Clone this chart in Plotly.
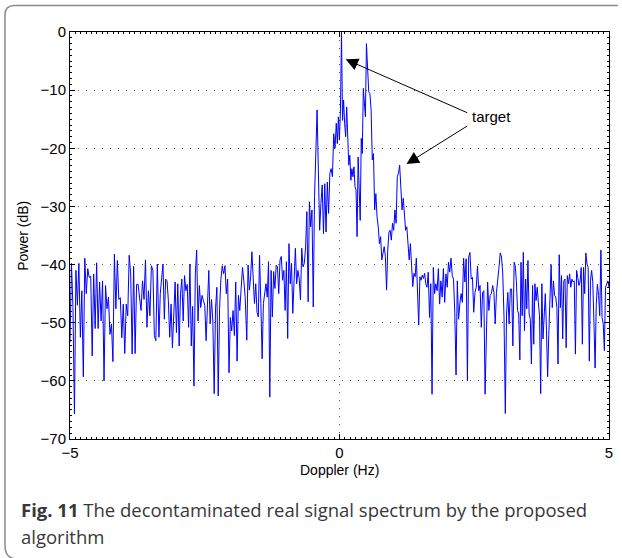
import numpy as np
import plotly.graph_objects as go

# Power spectrum (dB) of the decontaminated signal, listed in consecutive
# frequency stretches; each stretch is spread evenly over its own span.
power_a = [-53.4, -39.8, -47.4, -65.7, -41, -47, -39.8, -52.5, -44.5, -59.3,
           -38.9, -45, -40.7, -42.2, -42, -55.7, -41.6, -51, -39.7, -51,
           -43, -49.7, -42.8, -60, -43.6, -47.6, -45.6, -52, -50.2, -56.7,
           -38.2, -47.6, -39.3, -46, -45.7, -52.6, -46.8, -55.3, -46.8, -48.8,
           -38.4, -41.6, -55.4, -40.3, -55.3, -43.4, -43.4, -46.2, -47.9, -42.8,
           -46, -39.2, -50.8, -44.5, -48.8, -40.2, -41, -52.2, -53.1, -39.9]
power_b = [-52.5, -45, -43, -39.9, -49.4, -42.5, -42.8, -46.2, -52.5, -46.8,
           -54.3, -46.8, -43, -51.7, -43.3, -54, -45, -42.5, -49.7, -41.9,
           -44.5, -43.4, -50.8, -39.9, -54, -47.2, -60.9, -41.6, -37.5, -49.7,
           -43.6, -47.4, -45.3, -46.2, -47, -53.1, -44.7, -41, -50.2, -46,
           -49.7, -62.2, -47.6, -43.9, -62.6, -47.6, -42.5, -40.2, -41.6, -40.2,
           -45, -42.5, -58.6, -49.1, -51.4, -47.9, -52.2, -43, -56.6, -45.3,
           -47.9, -43, -40.5, -42.8, -45.6]
power_c = [-53, -40.1, -44.4, -42.1, -37.8, -42.7, -46.7, -43.3, -48.2, -49,
           -38.4, -46.7, -56.2, -46.7, -45, -43.3, -45.6, -39.5, -62.8, -41,
           -49, -41.2, -44.1, -40.1, -40.4, -45, -39.2, -38.6, -42.7, -41,
           -47.9, -39.5, -52.7, -36.4, -43.3, -39.8, -48.4, -41.5, -37.2, -43.3,
           -41, -42.4, -46.1, -37.2, -40.4, -39.8, -37, -30.9, -46.4, -29.2,
           -33.5, -30.6, -47.3, -28.3, -20.9, -13.4, -23.8, -34.1, -29.5, -26.3,
           -34.7, -26.1, -34.4, -25.8, -31.2, -24.3, -23.5, -24.9, -17.5, -20,
           -15.7]
power_d1 = [-19.2, -14.6, -18.6, -13.4, 0, -15.2, -11.7, -15.7, -18, -12.9,
            -16.9, -22.9, -21.2, -25.5, -23.5, -24.9, -23.2, -26.6, -27.2, -35.2,
            -21.5, -26.6, -32.4, -18.3, -20.9, -9.7, -13.2, -14.6, -2]
power_d2 = [-6.6, -10.3, -10.6, -13.4, -22, -20.9, -30.6, -27.8, -31.8, -33.5,
            -36.4, -35.2, -39.2, -38, -36.9, -38.6, -44.4, -37.5, -34.4, -34.1,
            -35.8, -32.9, -34.1, -30.6, -32.9, -24.9, -24.3, -22.9, -26.1, -30.6,
            -28.6, -31.8, -34.1, -33.5, -37.5, -39.2, -36.4, -39.8, -43.8, -41.5,
            -42.1, -38.9, -44.4, -50.4, -42.1, -42.7, -41.8, -42.4, -41.5]
power_e = [-43.3, -43.9, -41.3, -49.1, -43.3, -62.3, -40.5, -45, -43.3, -44.5,
           -40.7, -46.8, -42.8, -45.6, -40.7, -46.5, -41.6, -43.9, -39.6, -41.3,
           -38.9, -41.9, -42.5, -48.2, -59, -42.8, -49.4, -46.8, -45, -46.5,
           -38.9, -43, -39, -60, -38.7, -37.9, -42.5, -42.2, -48.2, -44.8,
           -43.9, -40.3, -44.5, -43.6, -50.8, -44.8, -44.5, -62.3, -49.4, -43,
           -47.9, -45.3, -45, -43.6, -44.8, -50.2, -44.8, -43, -40.5, -38,
           -38.7, -41.6, -49.1, -65.6, -48.5, -44.8, -50.2, -44.2, -44.2, -54,
           -39.6]
power_f = [-40.2, -42.8, -47.9, -48.5, -56.4, -39.6, -48.8, -37.9, -51.4, -42.5,
           -47.6, -39.3, -48.5, -49.4, -57.1, -43.6, -53.7, -43.3, -46.2, -43.9,
           -46.5, -48.8, -62.2, -43.3, -52.8, -49.1, -45, -51.4, -59.3, -52,
           -43.6, -40, -47.4, -42.8, -45.3, -45.6, -47.4, -57.1, -38.3, -47.4,
           -41.9, -52.8, -42.8, -42.5, -54.3, -41.9, -43.3, -41.6, -43.9, -42.5,
           -43, -42.8, -55.4, -41, -42.2, -43.6, -43, -40.5, -53.7, -40.5,
           -45, -38, -39.9, -40.5, -56.6, -42.8, -41, -43, -49.9, -57.8,
           -46.8, -43.4, -45.3, -48.8, -37.5, -49.1, -50.2, -54.8, -43.9, -43.3,
           -42.8, -43.9]

# Doppler span (Hz) of each stretch
span_a = (-5.0, -3.38)
span_b = (-3.35, -1.75)
span_c = (-1.72, -0.06)
span_d1 = (-0.04, 0.50)
span_d2 = (0.52, 1.58)
span_e = (1.60, 3.24)
span_f = (3.26, 5.0)

x_ticks = [-5, 0, 5]
y_ticks = [0, -10, -20, -30, -40, -50, -60, -70]

stretches = [(span_a, power_a), (span_b, power_b), (span_c, power_c),
             (span_d1, power_d1), (span_d2, power_d2), (span_e, power_e),
             (span_f, power_f)]
doppler = np.concatenate([np.linspace(s[0], s[1], len(p)) for s, p in stretches])
power = np.concatenate([np.asarray(p, dtype=float) for _, p in stretches])

W, H = 622, 558
ML, MR, MT, MB = 70, 9, 32, 119


def px(x):
    return (x - ML) / (W - ML - MR)


def py(y):
    return (H - MB - y) / (H - MT - MB)


AXIS_FONT = dict(family="Liberation Sans, Arial, Helvetica, sans-serif", size=14, color="black")
TICK_FONT = dict(family="Liberation Sans, Arial, Helvetica, sans-serif", size=15, color="black")
CAPTION_FONT = dict(family="Open Sans, Noto Sans, sans-serif", size=18.5, color="#383838")

fig = go.Figure(go.Scatter(x=doppler, y=power, mode="lines",
                           line=dict(color="#0000ff", width=1), showlegend=False))

axis_common = dict(
    showline=True, linecolor="black", linewidth=1, mirror="allticks",
    ticks="inside", ticklen=5, tickcolor="black", tickwidth=1,
    showgrid=True, gridcolor="#555555", gridwidth=1, griddash="1px,7px",
    zeroline=False, tickfont=TICK_FONT,
)

fig.update_xaxes(range=[-5, 5], tickvals=x_ticks, **axis_common,
                 minor=dict(dtick=0.1, ticklen=2, ticks="inside", tickcolor="black", showgrid=False))
fig.update_yaxes(range=[-70, 0], tickvals=y_ticks, **axis_common,
                 minor=dict(dtick=1, ticklen=2, ticks="inside", tickcolor="black", showgrid=False))

annotations = [
    dict(x=0.114, y=-4.7, ax=2.398, ay=-14.0, xref="x", yref="y", axref="x", ayref="y",
         text="", showarrow=True, arrowhead=2, arrowsize=2.5, arrowwidth=1,
         arrowcolor="black", standoff=0),
    dict(x=1.243, y=-22.7, ax=2.398, ay=-16.0, xref="x", yref="y", axref="x", ayref="y",
         text="", showarrow=True, arrowhead=2, arrowsize=2.5, arrowwidth=1,
         arrowcolor="black", standoff=0),
    dict(x=2.42, y=-14.45, xref="x", yref="y", text="target", showarrow=False,
         xanchor="left", yanchor="middle",
         font=dict(family="Liberation Sans, Arial, sans-serif", size=15, color="black")),
    # axis titles
    dict(x=px(342), y=py(470), xref="paper", yref="paper", text="Doppler (Hz)",
         showarrow=False, xanchor="center", yanchor="middle", font=AXIS_FONT),
    dict(x=px(22), y=py(235.5), xref="paper", yref="paper", text="Power (dB)",
         showarrow=False, xanchor="center", yanchor="middle", textangle=-90, font=AXIS_FONT),
    # caption
    dict(x=px(19), y=py(509), xref="paper", yref="paper",
         text="<b>Fig. 11</b> The decontaminated real signal spectrum by the proposed",
         showarrow=False, xanchor="left", yanchor="middle", font=CAPTION_FONT),
    dict(x=px(19), y=py(536), xref="paper", yref="paper", text="algorithm",
         showarrow=False, xanchor="left", yanchor="middle", font=CAPTION_FONT),
]

frame_path = (f"M {px(622)},{py(5.5)} L {px(14)},{py(5.5)} "
              f"Q {px(4.5)},{py(5.5)} {px(4.5)},{py(15)} "
              f"L {px(4.5)},{py(546)} "
              f"Q {px(4.5)},{py(557)} {px(14)},{py(559)}")

fig.update_layout(
    width=W, height=H,
    margin=dict(l=ML, r=MR, t=MT, b=MB),
    paper_bgcolor="white", plot_bgcolor="white",
    annotations=annotations,
    shapes=[dict(type="path", path=frame_path, xref="paper", yref="paper",
                 line=dict(color="#8c8c8c", width=1.5), layer="above")],
)

fig.write_html("out.html")
